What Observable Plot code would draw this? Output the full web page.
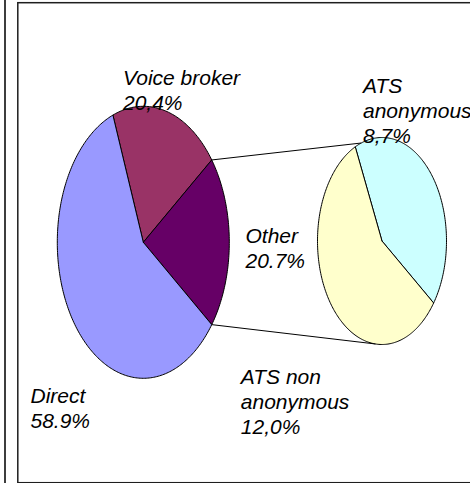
<!DOCTYPE html>
<html>
<head>
<meta charset="utf-8">
<script src="https://cdn.jsdelivr.net/npm/d3@7"></script>
<script src="https://cdn.jsdelivr.net/npm/@observablehq/plot@0.6"></script>
<style>
  html, body { margin: 0; padding: 0; background: #fff; overflow: hidden; }
  #chart svg { display: block; }
</style>
</head>
<body>
<div id="chart"></div>
<script>
// ---- data ----
const mainCategories = ["Voice broker", "Other", "Direct"];
const mainValues = [20.4, 20.7, 58.9];
const mainValueLabels = ["20,4%", "20.7%", "58.9%"];
const mainColors = ["#993366", "#660066", "#9999FF"];

const subCategories = ["ATS anonymous", "ATS non anonymous"];
const subValues = [8.7, 12.0];
const subValueLabels = ["8,7%", "12,0%"];
const subColors = ["#CCFFFF", "#FFFFCC"];

const labelNames = ["Voice broker", "ATS\nanonymous", "Other", "ATS non\nanonymous", "Direct"];

// ---- layout ----
const W = 470, H = 483;
const mainPie = {cx: 142.8, cy: 241.8, rx: 86, ry: 136, start: 90 - (mainValues[1] * 3.6) / 2 - mainValues[0] * 3.6};
const subPie = {cx: 381.5, cy: 240.5, rx: 64.5, ry: 103.5, start: -24.5};
const connectorAngles = [-18.8, 185.8]; // where links meet the secondary pie
// label anchor: [x, baseline of last line]
const labelLayout = [
  [122.5, 109], // Voice broker
  [362.5, 142], // ATS anonymous
  [245, 267],   // Other
  [240.3, 433], // ATS non anonymous
  [30, 427]     // Direct
];

function pt(p, deg) {
  const a = (deg * Math.PI) / 180;
  return {x: p.cx + p.rx * Math.sin(a), y: p.cy - p.ry * Math.cos(a)};
}

function slices(p, values, total) {
  const out = [];
  let a = p.start;
  values.forEach((v, i) => {
    const span = (v / total) * 360;
    const a0 = a, a1 = a + span;
    const pts = [{x: p.cx, y: p.cy}];
    const n = Math.max(2, Math.ceil(span));
    for (let k = 0; k <= n; k++) pts.push(pt(p, a0 + (span * k) / n));
    pts.push({x: p.cx, y: p.cy});
    out.push({i, a0, a1, pts});
    a = a1;
  });
  return out;
}

const mainTotal = d3.sum(mainValues);
const subTotal = d3.sum(subValues);
const mainSlices = slices(mainPie, mainValues, mainTotal);
const subSlices = slices(subPie, subValues, subTotal);

const otherSlice = mainSlices[1];
const links = [
  {from: pt(mainPie, otherSlice.a0), to: pt(subPie, connectorAngles[0])},
  {from: pt(mainPie, otherSlice.a1), to: pt(subPie, connectorAngles[1])}
];

const labelTexts = [
  labelNames[0] + "\n" + mainValueLabels[0],
  labelNames[1] + "\n" + subValueLabels[0],
  labelNames[2] + "\n" + mainValueLabels[1],
  labelNames[3] + "\n" + subValueLabels[1],
  labelNames[4] + "\n" + mainValueLabels[2]
];
const labels = labelTexts.map((t, i) => ({text: t, x: labelLayout[i][0], y: labelLayout[i][1]}));

const marks = [
  // outer left line
  Plot.frame({fill: "#2a2a2a", stroke: "none", insetLeft: 3.6, insetRight: W - 5.4, insetTop: -2, insetBottom: -2}),
  // chart area frame
  Plot.frame({stroke: "#1e1e1e", strokeWidth: 1.5, insetLeft: 17.3, insetTop: 2.2, insetBottom: 0.8, insetRight: -10}),
  ...mainSlices.map(s => Plot.line(s.pts, {x: "x", y: "y", fill: mainColors[s.i], stroke: "#000", strokeWidth: 1, curve: "linear", strokeLinejoin: "miter"})),
  ...subSlices.map(s => Plot.line(s.pts, {x: "x", y: "y", fill: subColors[s.i], stroke: "#000", strokeWidth: 1, curve: "linear", strokeLinejoin: "miter"})),
  Plot.link(links, {x1: d => d.from.x, y1: d => d.from.y, x2: d => d.to.x, y2: d => d.to.y, stroke: "#000", strokeWidth: 1}),
  Plot.text(labels, {
    x: "x", y: "y", text: "text",
    textAnchor: "start", lineAnchor: "bottom", lineHeight: 1.17,
    fontSize: 21, fontStyle: "italic", fontFamily: "'Liberation Sans', Arial, sans-serif",
    fill: "#000"
  })
];

const chart = Plot.plot({
  width: W,
  height: H,
  margin: 0,
  x: {domain: [0, W], range: [0, W], axis: null},
  y: {domain: [0, H], range: [0, H], axis: null},
  style: {background: "#fff", overflow: "hidden"},
  marks
});
document.getElementById("chart").appendChild(chart);
</script>
</body>
</html>
